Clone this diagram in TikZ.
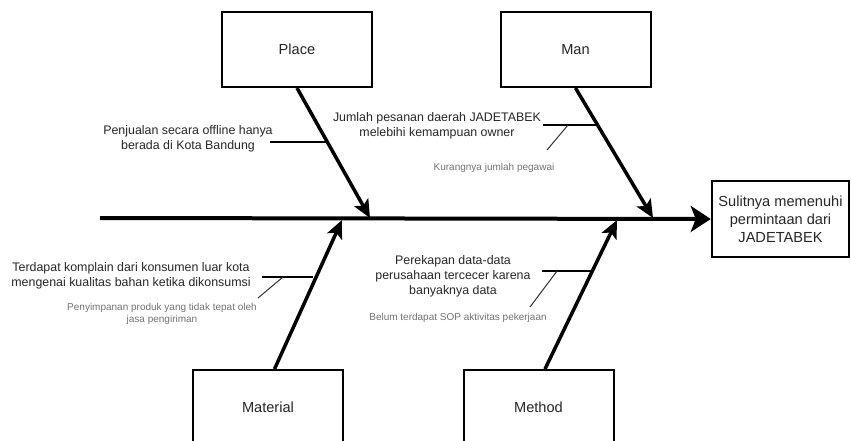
\documentclass[tikz,border=0pt]{standalone}
\usepackage{fontspec}
\setmainfont{Liberation Sans}
\usepackage{xcolor}
\usepackage{tikz}
\usetikzlibrary{arrows.meta}

\begin{document}
\begin{tikzpicture}[x=1pt,y=-1pt,
        cat node/.style={rectangle,draw,line width=2pt,minimum width=150pt,minimum height=75pt,inner sep=0pt,fill=white,font=\fontsize{14.6}{17}\selectfont,text=black!85},
        effect node/.style={rectangle,draw,line width=2.5pt,minimum width=137pt,minimum height=76pt,inner sep=0pt,align=center,font=\fontsize{14.6}{18}\selectfont,text=black!85},
        cause node/.style={align=center,inner sep=0pt,font=\fontsize{12.4}{14.8}\selectfont,text=black!85},
        sub node/.style={align=center,inner sep=0pt,font=\fontsize{10}{12}\selectfont,text=black!55},
        spine edge/.style={line width=4pt,-{Stealth[length=20pt,width=26pt,inset=5pt]}},
        bone edge/.style={line width=3.5pt,-{Stealth[length=18pt,width=16pt,inset=4pt]}},
        rib edge/.style={line width=2pt},
        twig edge/.style={line width=1pt,draw=black!80}
      ]
      \useasboundingbox (0,0) rectangle (851,441);

      % categories and effect
      \node[cat node] (place) at (297,49.5)     {Place};
      \node[cat node] (man) at (575.5,49.5)     {Man};
      \node[cat node] (material) at (268,407.5) {Material};
      \node[cat node] (method) at (538.5,407.5) {Method};
      \node[effect node] (effect) at (780.5,219) {Sulitnya memenuhi\\permintaan dari\\JADETABEK};

      % where the bones meet the spine
      \coordinate (spineStart) at (100,218);
      \coordinate (placeTip) at (370,218);
      \coordinate (manTip) at (653,218);
      \coordinate (materialTip) at (342,220);
      \coordinate (methodTip) at (617,220);

      \draw[spine edge] (spineStart) -- (effect.west);
      \draw[bone edge] (place.south) -- (placeTip);
      \draw[bone edge] (man.south) -- (manTip);
      \draw[bone edge] ([xshift=6.5pt]material.north) -- (materialTip);
      \draw[bone edge] ([xshift=6.5pt]method.north) -- (methodTip);

      % causes
      \node[cause node] (placeCause) at (188,139)    {Penjualan secara offline hanya\\berada di Kota Bandung};
      \node[cause node] (manCause) at (437,126)      {Jumlah pesanan daerah JADETABEK\\melebihi kemampuan owner};
      \node[cause node] (materialCause) at (131,276) {Terdapat komplain dari konsumen luar kota\\mengenai kualitas bahan ketika dikonsumsi};
      \node[cause node] (methodCause) at (453,276)   {Perekapan data-data\\perusahaan tercecer karena\\banyaknya data};

      % sub causes
      \node[sub node] (manSub) at (494,168)      {Kurangnya jumlah pegawai};
      \node[sub node] (materialSub) at (162,314) {Penyimpanan produk yang tidak tepat oleh\\jasa pengiriman};
      \node[sub node] (methodSub) at (458,318)   {Belum terdapat SOP aktivitas pekerjaan};

      % ribs
      \coordinate (placeRib) at (270,142);     \coordinate (placeJoin) at (327.6,142);
      \coordinate (manRib) at (543,125);       \coordinate (manJoin) at (598,125);
      \coordinate (materialRib) at (262,277);  \coordinate (materialJoin) at (313.3,277);
      \coordinate (methodRib) at (542,271);    \coordinate (methodJoin) at (591.9,271);
      \path[rib edge]
        (placeRib) edge (placeJoin)
        (manRib) edge (manJoin)
        (materialRib) edge (materialJoin)
        (methodRib) edge (methodJoin);

      % twigs
      \coordinate (manTwig) at (568,125);      \coordinate (manTwigEnd) at (547,150);
      \coordinate (materialTwig) at (283,277); \coordinate (materialTwigEnd) at (258,298);
      \coordinate (methodTwig) at (557,271);   \coordinate (methodTwigEnd) at (530,307);
      \path[twig edge]
        (manTwig) edge (manTwigEnd)
        (materialTwig) edge (materialTwigEnd)
        (methodTwig) edge (methodTwigEnd);
    \end{tikzpicture}
\end{document}
